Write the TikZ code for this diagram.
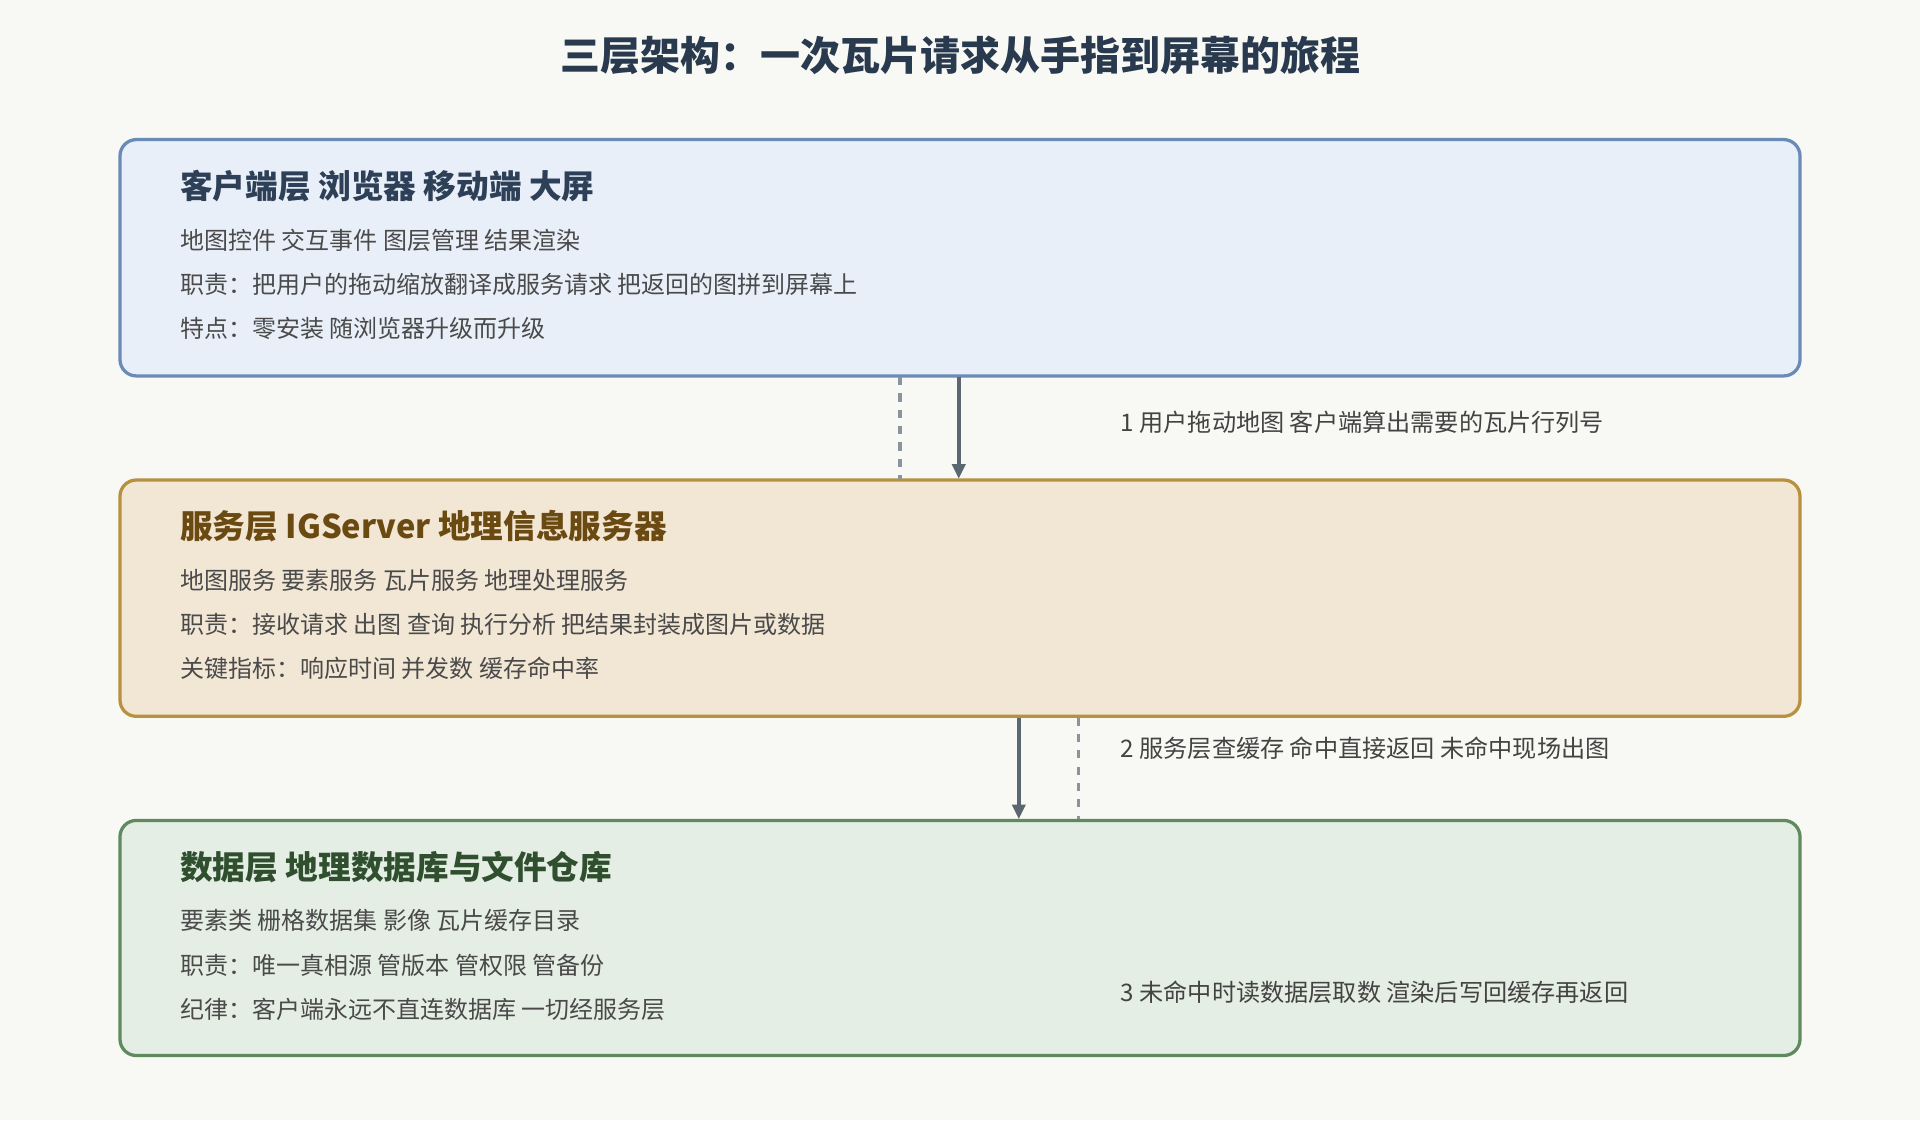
\documentclass[tikz,border=0pt]{standalone}
\usepackage{fontspec}
\setmainfont{Noto Sans CJK SC}
\usetikzlibrary{arrows.meta}
\definecolor{bg}{HTML}{F8F8F5}
\definecolor{f1}{HTML}{E8EFF8}\definecolor{b1}{HTML}{6A8BB5}\definecolor{h1}{HTML}{2E4057}
\definecolor{f2}{HTML}{F2E6D4}\definecolor{b2}{HTML}{B8913F}\definecolor{h2}{HTML}{6B4A12}
\definecolor{f3}{HTML}{E4EEE4}\definecolor{b3}{HTML}{5E8A5E}\definecolor{h3}{HTML}{2F4F2F}
\definecolor{tx}{HTML}{4A4A4A}\definecolor{ar}{HTML}{5A6670}\definecolor{da}{HTML}{8A949C}
\begin{document}
\begin{tikzpicture}[x={(0.75pt,0)},y={(0,-0.75pt)},
 box/.style={rounded corners=10pt,line width=2pt},
 hd/.style={anchor=west,font=\fontsize{20}{22}\selectfont\bfseries,inner sep=0},
 bd/.style={anchor=west,font=\fontsize{14.7}{16}\selectfont,text=tx,inner sep=0},
 lb/.style={anchor=west,font=\fontsize{14.8}{16}\selectfont,text=tx!90!black,inner sep=0},
 sol/.style={draw=ar,line width=2.2pt,-{Triangle[length=9pt,width=8pt]}},
 dsh/.style={draw=da,line width=2pt,dash pattern=on 5pt off 5pt}]
\fill[bg] (0,0) rectangle (1568,915);
\node[font=\fontsize{24.5}{26}\selectfont\bfseries,text=h1!90!black] (title) at (784,45) {三层架构：一次瓦片请求从手指到屏幕的旅程};
\draw[box,fill=f1,draw=b1] (98,114) rectangle (1470,307);
\draw[box,fill=f2,draw=b2] (98,392) rectangle (1470,585);
\draw[box,fill=f3,draw=b3] (98,670) rectangle (1470,862);
\node[hd,text=h1] (h1) at (147,152) {客户端层 浏览器 移动端 大屏};
\node[bd] (a1) at (147,196) {地图控件 交互事件 图层管理 结果渲染};
\node[bd] (a2) at (147,232) {职责：把用户的拖动缩放翻译成服务请求 把返回的图拼到屏幕上};
\node[bd] (a3) at (147,268) {特点：零安装 随浏览器升级而升级};
\node[hd,text=h2] (h2) at (147,430) {服务层 IGServer 地理信息服务器};
\node[bd] (b1) at (147,474) {地图服务 要素服务 瓦片服务 地理处理服务};
\node[bd] (b2) at (147,510) {职责：接收请求 出图 查询 执行分析 把结果封装成图片或数据};
\node[bd] (b3) at (147,546) {关键指标：响应时间 并发数 缓存命中率};
\node[hd,text=h3] (h3) at (147,708) {数据层 地理数据库与文件仓库};
\node[bd] (c1) at (147,752) {要素类 栅格数据集 影像 瓦片缓存目录};
\node[bd] (c2) at (147,788) {职责：唯一真相源 管版本 管权限 管备份};
\node[bd] (c3) at (147,824) {纪律：客户端永远不直连数据库 一切经服务层};
\coordinate (s1) at (783,308); \coordinate (e1) at (783,391);
\coordinate (d1a) at (735,308); \coordinate (d1b) at (735,391);
\coordinate (s2) at (832,586); \coordinate (e2) at (832,669);
\coordinate (d2a) at (881,586); \coordinate (d2b) at (881,669);
\draw[dsh] (d1a) -- (d1b);
\draw[sol] (s1) -- (e1);
\draw[sol] (s2) -- (e2);
\draw[dsh] (d2a) -- (d2b);
\node[lb] (l1) at (915,345) {1 用户拖动地图 客户端算出需要的瓦片行列号};
\node[lb] (l2) at (915,611) {2 服务层查缓存 命中直接返回 未命中现场出图};
\node[lb] (l3) at (915,810) {3 未命中时读数据层取数 渲染后写回缓存再返回};
\end{tikzpicture}
\end{document}
